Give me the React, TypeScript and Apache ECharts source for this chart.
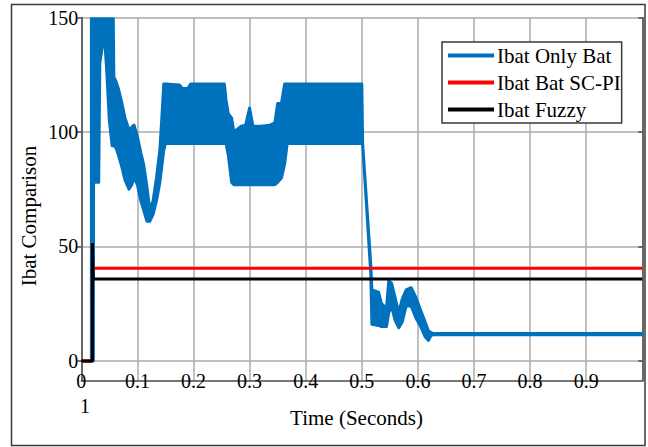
import React, { useEffect, useRef } from 'react';
import * as echarts from 'echarts';

// ---- data ----
const yTickValues = [0, 50, 100, 150];

// "Ibat Only Bat": fast switching signal, kept as lower / upper envelope
const blueTime = [
  0, 0.018, 0.018, 0.0215, 0.022, 0.0245, 0.025, 0.031, 0.033, 0.041, 0.045, 0.05, 0.055, 0.057,
  0.058, 0.062, 0.066, 0.072, 0.078, 0.085, 0.09, 0.094, 0.1, 0.106, 0.111, 0.117, 0.122, 0.128,
  0.134, 0.14, 0.144, 0.147, 0.15, 0.175, 0.18, 0.19, 0.195, 0.255, 0.258, 0.262, 0.268, 0.272,
  0.285, 0.293, 0.3, 0.306, 0.32, 0.336, 0.345, 0.35, 0.357, 0.3625, 0.367, 0.5, 0.5015, 0.516,
  0.518, 0.53, 0.535, 0.544, 0.548, 0.553, 0.559, 0.566, 0.572, 0.579, 0.588, 0.596, 0.605, 0.613,
  0.619, 0.623, 0.627, 1.0,
];
const blueLow = [
  0, 0, 0, 0, 105, 105, 78, 78, 130, 143, 128, 105, 94, 94,
  94, 93, 90, 85, 79, 75, 77, 80, 77, 70, 66, 61, 61, 64,
  70, 78, 86, 92, 95, 95, 95, 95, 95, 95, 95, 90, 78, 77,
  77, 77, 77, 77, 77, 77, 77, 78, 80, 86, 95, 95, 95, 38,
  16, 15.5, 15, 15, 21, 24, 18, 14.5, 17, 24, 24, 19, 15, 10.5,
  9, 11, 11.5, 11.5,
];
const blueHigh = [
  0, 0, 150, 150, 150, 150, 150, 150, 150, 150, 150, 150, 150, 150,
  124, 122, 119, 113, 106, 101, 102, 103, 98, 91, 86, 76, 66, 70,
  80, 92, 108, 121, 121, 120.5, 119, 119, 121, 121, 114, 108, 106, 100,
  102.5, 103, 110.5, 102.5, 102.5, 103, 104, 112.5, 113, 121, 121, 121, 95, 42,
  31, 30, 25, 23, 35, 34, 28, 21, 27, 31, 32, 28, 22, 17,
  13, 12.5, 12, 12,
];

// "Ibat Bat SC-PI"
const redTime = [0, 0.0198, 0.0198, 1.0];
const redValue = [0, 0, 40.5, 40.5];

// "Ibat Fuzzy"
const blackTime = [0, 0.0198, 0.0198, 0.0212, 1.0];
const blackValue = [0, 0, 51.5, 35.8, 35.8];

const legendNames = ['Ibat Only Bat', 'Ibat Bat SC-PI', 'Ibat Fuzzy'];

const BLUE = '#0072BD';
const RED = '#FF0000';
const BLACK = '#000000';
const SERIF = "'Times New Roman', 'Liberation Serif', 'DejaVu Serif', serif";

export default function App() {
  const ref = useRef<HTMLDivElement>(null);

  useEffect(() => {
    if (!ref.current) return;
    const chart = echarts.init(ref.current, undefined, { renderer: 'svg' });

    const bandData = blueTime.map((t, i) => [t, blueLow[i], blueHigh[i]]);
    const red = redTime.map((t, i) => [t, redValue[i]]);
    const black = blackTime.map((t, i) => [t, blackValue[i]]);

    const renderBand = (params: any, api: any) => {
      if (params.dataIndex !== 0) return null;
      const upper = blueTime.map((t, i) => api.coord([t, blueHigh[i]]));
      const lower = blueTime.map((t, i) => api.coord([t, blueLow[i]])).reverse();
      return {
        type: 'polygon',
        shape: { points: upper.concat(lower) },
        style: { fill: BLUE, stroke: BLUE, lineWidth: 3, lineJoin: 'round' },
      };
    };

    chart.setOption({
      animation: false,
      backgroundColor: '#ffffff',
      grid: { left: 81.3, right: 5.7, top: 17.5, bottom: 66, containLabel: false },
      legend: {
        data: legendNames,
        orient: 'vertical',
        left: 442,
        top: 42,
        padding: [3, 1, 3, 6],
        itemGap: 6,
        itemWidth: 46,
        itemHeight: 4,
        icon: 'rect',
        backgroundColor: '#ffffff',
        borderColor: '#3a3a3a',
        borderWidth: 1.5,
        borderRadius: 0,
        textStyle: { fontFamily: SERIF, fontSize: 21, color: '#000', lineHeight: 20, padding: [0, 0, 0, -2] },
      },
      xAxis: {
        type: 'value',
        min: 0,
        max: 1,
        interval: 0.1,
        axisLine: { show: true, onZero: false, lineStyle: { color: '#4a4a4a', width: 1.5 } },
        axisTick: { show: false },
        splitLine: { show: true, lineStyle: { color: '#ababab', width: 1.5 } },
        axisLabel: {
          fontFamily: SERIF,
          fontSize: 20,
          color: '#000',
          margin: 0,
          verticalAlign: 'middle',
          formatter: (v: number) => (v >= 1 ? '' : String(Math.round(v * 10) / 10)),
        },
      },
      yAxis: [
        {
          type: 'value',
          min: -8.75,
          max: 150,
          axisLine: { show: true, onZero: false, lineStyle: { color: '#4a4a4a', width: 1.5 } },
          axisTick: { show: true, length: 4, customValues: yTickValues, lineStyle: { color: '#4a4a4a', width: 1.5 } },
          splitLine: { show: true, lineStyle: { color: '#ababab', width: 1.5 } },
          axisLabel: {
            customValues: yTickValues,
            fontFamily: SERIF,
            fontSize: 20,
            color: '#000',
            margin: 3,
          },
        },
        {
          type: 'value',
          position: 'right',
          min: -8.75,
          max: 150,
          axisLine: { show: true, onZero: false, lineStyle: { color: '#4a4a4a', width: 1.5 } },
          axisTick: { show: true, inside: true, length: 4, customValues: yTickValues, lineStyle: { color: '#4a4a4a', width: 1.5 } },
          splitLine: { show: false },
          axisLabel: { show: false },
        },
      ],
      series: [
        {
          name: 'Ibat Only Bat',
          type: 'custom',
          renderItem: renderBand,
          data: bandData,
          encode: { x: 0, y: [1, 2] },
          itemStyle: { color: BLUE },
          clip: true,
          z: 2,
        },
        {
          name: 'Ibat Bat SC-PI',
          type: 'line',
          data: red,
          symbol: 'none',
          lineStyle: { color: RED, width: 3 },
          itemStyle: { color: RED },
          z: 3,
        },
        {
          name: 'Ibat Fuzzy',
          type: 'line',
          data: black,
          symbol: 'none',
          lineStyle: { color: BLACK, width: 3 },
          itemStyle: { color: BLACK },
          z: 4,
        },
      ],
      graphic: [
        {
          type: 'rect',
          silent: true,
          z: -1,
          shape: { x: 11.5, y: 4.5, width: 633.5, height: 441 },
          style: { fill: 'none', stroke: '#3a3a3a', lineWidth: 1.5 },
        },
        {
          type: 'text',
          x: 29,
          y: 216,
          rotation: Math.PI / 2,
          style: {
            text: 'Ibat Comparison',
            fontFamily: SERIF,
            fontSize: 21,
            fill: '#000',
            align: 'center',
            verticalAlign: 'middle',
            textAlign: 'center',
            textVerticalAlign: 'middle',
          },
        },
        {
          type: 'text',
          x: 356.5,
          y: 418,
          style: {
            text: 'Time (Seconds)',
            fontFamily: SERIF,
            fontSize: 21,
            fill: '#000',
            align: 'center',
            verticalAlign: 'middle',
            textAlign: 'center',
            textVerticalAlign: 'middle',
          },
        },
        {
          type: 'text',
          x: 85,
          y: 406,
          style: {
            text: '1',
            fontFamily: SERIF,
            fontSize: 20,
            fill: '#000',
            align: 'center',
            verticalAlign: 'middle',
            textAlign: 'center',
            textVerticalAlign: 'middle',
          },
        },
      ],
    });

    return () => chart.dispose();
  }, []);

  return (
    <div
      ref={ref}
      style={{ position: 'fixed', left: 0, top: 0, width: 648, height: 447, background: '#fff' }}
    />
  );
}
